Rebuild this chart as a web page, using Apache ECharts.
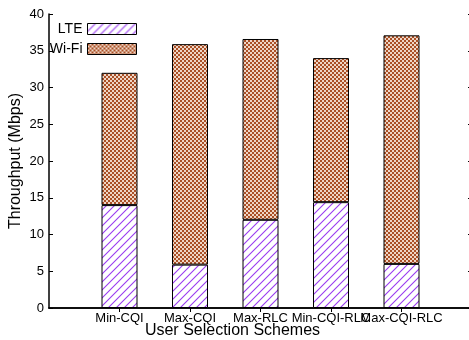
<!DOCTYPE html>
<html><head><meta charset="utf-8">
<script src="https://cdn.jsdelivr.net/npm/echarts@6/dist/echarts.min.js"></script>
<style>html,body{margin:0;padding:0;background:#fff}#c{width:469px;height:340px}</style>
</head><body><div id="c"></div>
<script>
const categories = ['Min-CQI', 'Max-CQI', 'Max-RLC', 'Min-CQI-RLC', 'Max-CQI-RLC'];
const lteValues = [14.0, 5.9, 12.0, 14.4, 6.0];
const wifiValues = [18.0, 30.0, 24.6, 19.6, 31.1];
const yTicks = [0, 5, 10, 15, 20, 25, 30, 35, 40];

const FONT = 'Liberation Sans, Arial, Helvetica, sans-serif';

function hatchPattern() {
  const c = document.createElement('canvas');
  c.width = 8; c.height = 8;
  const g = c.getContext('2d');
  g.fillStyle = '#ffffff'; g.fillRect(0, 0, 8, 8);
  g.strokeStyle = '#9a3cf0'; g.lineWidth = 1.1;
  g.beginPath();
  g.moveTo(-1, 9); g.lineTo(9, -1);
  g.moveTo(-5, 5); g.lineTo(5, -5);
  g.moveTo(3, 13); g.lineTo(13, 3);
  g.stroke();
  return c;
}
function checkerPattern() {
  const c = document.createElement('canvas');
  c.width = 4; c.height = 4;
  const g = c.getContext('2d');
  g.fillStyle = '#efd6c6'; g.fillRect(0, 0, 4, 4);
  g.fillStyle = '#aa5026';
  g.fillRect(0, 0, 2, 2); g.fillRect(2, 2, 2, 2);
  return c;
}

// pad categories so they sit at positions 1..5 of a 0..6 axis
const xData = [''].concat(categories, ['']);
const pad = v => [null].concat(v, [null]);

const chart = echarts.init(document.getElementById('c'));
const lteFill = { image: hatchPattern(), repeat: 'repeat' };
const wifiFill = { image: checkerPattern(), repeat: 'repeat' };

const legendCommon = { right: 332, align: 'right', itemWidth: 49, itemHeight: 11, itemGap: 0, icon: 'rect',
  padding: 0, z: 20,
  itemStyle: { borderColor: '#000', borderWidth: 1 },
  textStyle: { fontFamily: FONT, fontSize: 14, color: '#000' } };

chart.setOption({
  animation: false,
  backgroundColor: '#fff',
  grid: { left: 49, top: 14, width: 423, height: 294, outerBoundsMode: 'none', containLabel: false },
  legend: [
    Object.assign({ data: ['LTE'], top: 22 }, legendCommon),
    Object.assign({ data: ['Wi-Fi'], top: 42 }, legendCommon)
  ],
  xAxis: [
    { type: 'category', data: xData, boundaryGap: false, position: 'bottom',
      axisLine: { lineStyle: { color: '#000', width: 1.5 } },
      axisTick: { show: false },
      axisLabel: { fontFamily: FONT, fontSize: 13, color: '#000', margin: 4, interval: 0 },
      name: 'User Selection Schemes', nameLocation: 'middle', nameGap: 15, nameMoveOverlap: false,
      nameTextStyle: { fontFamily: FONT, fontSize: 16, color: '#000', padding: [0, 56, 0, 0] } },
    { type: 'category', data: xData, boundaryGap: false, position: 'top',
      axisLine: { show: true, lineStyle: { color: '#000', width: 1.5 } },
      axisTick: { show: true, inside: true, length: 4, lineStyle: { color: '#000' },
        interval: (i) => i > 0 && i < xData.length - 1 },
      axisLabel: { show: false } }
  ],
  yAxis: [
    { type: 'value', min: 0, max: 40, interval: 5, position: 'left',
      axisLine: { show: true, lineStyle: { color: '#000', width: 1.5 } },
      axisTick: { show: true, inside: true, length: 4, lineStyle: { color: '#000' } },
      axisLabel: { fontFamily: FONT, fontSize: 13, color: '#000', margin: 5,
        formatter: v => yTicks.includes(v) ? String(v) : '' },
      splitLine: { show: false },
      name: 'Throughput (Mbps)', nameLocation: 'middle', nameGap: 25, nameRotate: 90, nameMoveOverlap: false,
      nameTextStyle: { fontFamily: FONT, fontSize: 16, color: '#000' } },
    { type: 'value', min: 0, max: 40, interval: 5, position: 'right',
      axisLine: { show: true, lineStyle: { color: '#000', width: 1.5 } },
      axisTick: { show: true, inside: true, length: 4, lineStyle: { color: '#000' } },
      axisLabel: { show: false }, splitLine: { show: false } }
  ],
  series: [
    { name: 'LTE', type: 'bar', stack: 'tp', data: pad(lteValues), barWidth: 36,
      itemStyle: { color: lteFill, borderColor: '#000', borderWidth: 1 } },
    { name: 'Wi-Fi', type: 'bar', stack: 'tp', data: pad(wifiValues), barWidth: 36,
      itemStyle: { color: wifiFill, borderColor: '#000', borderWidth: 1 } }
  ]
});
</script></body></html>
